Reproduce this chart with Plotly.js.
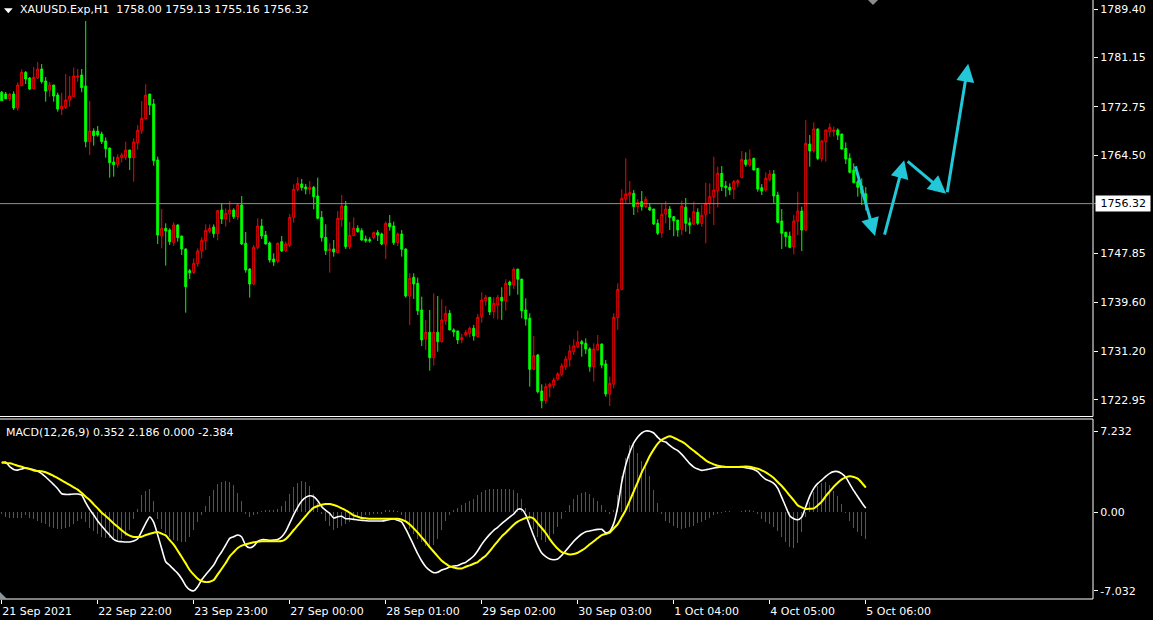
<!DOCTYPE html>
<html>
<head>
<meta charset="utf-8">
<script src="https://cdn.plot.ly/plotly-3.0.1.min.js"></script>
<style>
html,body{margin:0;padding:0;background:#000;}
#chart{width:1153px;height:620px;}
</style>
</head>
<body>
<div id="chart"></div>
<script>
// ---- Data (H1 bars, 21 Sep 2021 -> 5 Oct 2021 06:00) ----
const open = [1775.24,1774.95,1774.16,1774.95,1772.57,1776.37,1778.63,1777.67,1775.86,1777.67,
1779.20,1777.16,1775.63,1776.48,1774.78,1772.40,1772.69,1773.93,1774.50,1777.84,
1778.18,1776.31,1766.85,1768.66,1768.66,1768.15,1766.96,1765.77,1763.39,1763.00,
1764.13,1764.19,1765.43,1764.13,1766.68,1768.78,1770.76,1774.95,1773.25,1763.73,
1750.82,1752.12,1751.84,1749.74,1752.69,1750.82,1748.61,1744.92,1744.64,1746.11,
1748.32,1750.02,1751.67,1752.35,1751.22,1755.24,1753.71,1754.56,1755.24,1754.11,
1756.09,1749.58,1745.21,1742.66,1748.90,1752.52,1750.99,1749.63,1746.91,1746.57,
1749.86,1748.33,1749.29,1753.99,1758.75,1759.66,1759.15,1758.75,1759.09,1757.62,
1753.99,1750.60,1748.33,1748.61,1747.99,1753.66,1755.92,1749.01,1750.88,1752.13,
1751.73,1750.31,1750.20,1750.54,1751.39,1751.16,1749.41,1752.98,1752.52,1749.69,
1751.16,1748.61,1740.62,1743.80,1742.78,1738.24,1733.32,1734.45,1730.14,1734.45,
1732.86,1736.43,1737.68,1734.85,1734.68,1733.15,1734.00,1734.28,1735.13,1733.71,
1737.11,1739.83,1740.40,1737.96,1739.09,1740.40,1739.77,1743.00,1742.49,1745.20,
1743.50,1738.24,1736.83,1728.16,1730.60,1724.48,1722.83,1725.21,1725.50,1726.52,
1727.31,1728.61,1729.86,1731.16,1732.01,1732.86,1732.58,1731.62,1728.61,1731.45,
1732.47,1729.07,1723.97,1725.67,1736.94,1741.76,1757.11,1757.79,1758.07,1755.81,
1756.66,1755.81,1755.70,1755.41,1752.97,1751.38,1754.55,1755.40,1754.10,1753.53,
1751.95,1755.69,1753.08,1752.85,1754.84,1752.97,1754.50,1756.37,1757.50,1758.52,
1761.47,1759.31,1759.09,1758.80,1759.88,1760.73,1763.73,1762.88,1764.01,1762.31,
1759.03,1758.63,1760.45,1761.35,1757.78,1753.36,1751.44,1750.81,1749.00,1753.36,
1755.06,1751.83,1766.45,1765.32,1769.00,1764.01,1766.85,1768.55,1768.55,1768.83,
1768.15,1765.71,1764.01,1762.03,1760.05,1759.31,1758.00];
const high = [1775.46,1775.29,1775.12,1775.41,1776.94,1779.14,1778.86,1777.84,1779.54,1780.39,
1780.05,1777.84,1776.99,1776.50,1775.18,1775.18,1778.35,1778.01,1779.43,1779.20,
1779.20,1787.36,1773.76,1769.12,1769.51,1768.55,1767.59,1765.80,1764.30,1764.70,
1764.98,1766.85,1765.45,1767.42,1769.68,1773.76,1776.60,1774.95,1774.10,1764.30,
1755.41,1752.97,1752.12,1753.14,1752.80,1750.82,1748.70,1745.21,1747.02,1748.72,
1750.59,1752.80,1752.80,1752.80,1755.24,1756.37,1755.52,1756.77,1755.52,1756.37,
1757.62,1751.50,1745.33,1749.29,1753.82,1753.71,1751.67,1749.86,1747.88,1749.69,
1750.82,1749.86,1754.56,1759.60,1760.79,1760.51,1759.66,1760.17,1759.32,1760.74,
1755.07,1752.81,1749.58,1750.14,1755.07,1757.79,1756.77,1753.20,1753.99,1752.64,
1752.13,1750.88,1750.60,1751.56,1751.84,1751.39,1753.26,1754.39,1753.26,1751.39,
1751.84,1748.70,1744.48,1744.48,1743.74,1740.51,1736.54,1738.24,1741.08,1740.62,
1740.06,1738.92,1738.24,1735.13,1734.70,1734.17,1734.85,1735.41,1735.70,1737.56,
1741.25,1740.79,1740.40,1740.40,1740.79,1742.10,1743.46,1743.23,1745.44,1745.20,
1743.50,1740.23,1737.68,1733.83,1730.77,1725.61,1725.78,1725.89,1726.74,1727.65,
1729.18,1730.43,1732.30,1733.26,1734.73,1733.15,1733.43,1731.90,1732.58,1734.00,
1732.50,1729.75,1726.91,1737.68,1742.78,1758.75,1764.02,1760.17,1758.64,1757.06,
1758.47,1757.51,1756.26,1755.41,1753.66,1756.20,1756.76,1755.91,1754.20,1753.53,
1756.82,1757.27,1753.93,1756.65,1755.52,1756.08,1759.88,1759.77,1764.30,1762.60,
1762.71,1760.16,1759.77,1760.33,1760.45,1765.26,1765.03,1765.54,1764.13,1762.35,
1759.65,1761.64,1762.03,1762.03,1758.35,1755.40,1751.55,1751.55,1754.38,1758.35,
1755.80,1770.53,1767.98,1770.13,1769.11,1767.13,1768.90,1769.96,1769.40,1769.11,
1768.20,1766.73,1764.86,1763.16,1760.33,1760.62,1759.13];
const low = [1773.76,1774.05,1773.76,1772.23,1772.12,1776.30,1776.65,1775.63,1775.80,1777.50,
1776.71,1773.65,1774.50,1773.65,1771.95,1771.38,1772.40,1772.80,1774.50,1777.05,
1775.24,1765.89,1764.58,1766.17,1767.70,1766.45,1764.13,1760.73,1760.90,1762.43,
1763.34,1763.73,1762.03,1760.05,1765.49,1768.15,1770.59,1771.38,1762.77,1749.46,
1748.72,1745.77,1749.29,1749.12,1749.85,1747.59,1737.79,1743.51,1744.36,1745.60,
1747.02,1748.44,1751.27,1750.53,1750.08,1752.86,1752.41,1753.09,1753.71,1753.54,
1749.29,1744.59,1740.34,1742.49,1748.56,1750.31,1749.40,1746.29,1745.72,1746.18,
1748.10,1748.16,1748.90,1753.09,1758.36,1758.53,1757.90,1757.90,1755.35,1753.66,
1749.86,1747.59,1744.59,1747.31,1747.90,1752.41,1748.61,1748.56,1750.80,1751.39,
1750.03,1749.69,1749.69,1750.25,1749.97,1749.24,1746.91,1751.73,1749.29,1749.12,
1747.31,1740.34,1735.69,1740.11,1737.39,1732.13,1731.45,1727.93,1728.78,1731.16,
1732.69,1735.70,1734.80,1733.71,1732.47,1732.58,1733.71,1733.60,1733.03,1733.60,
1736.09,1738.98,1737.39,1736.83,1736.66,1736.55,1738.13,1740.68,1741.81,1740.85,
1736.83,1735.58,1725.21,1728.05,1724.08,1721.53,1722.27,1723.40,1724.93,1726.24,
1726.91,1728.05,1728.61,1730.60,1731.73,1730.31,1730.77,1727.76,1726.06,1731.33,
1728.33,1723.51,1721.93,1724.93,1734.85,1741.60,1756.38,1756.38,1754.39,1754.79,
1755.13,1755.53,1755.07,1752.69,1750.99,1750.53,1752.97,1751.83,1750.81,1750.70,
1750.98,1751.55,1751.15,1752.68,1752.70,1752.40,1749.57,1754.55,1752.68,1755.69,
1758.46,1757.50,1757.78,1757.10,1759.09,1760.70,1762.60,1762.60,1762.00,1758.35,
1757.78,1758.35,1760.05,1756.37,1752.97,1748.60,1749.00,1748.72,1747.70,1750.98,
1748.26,1751.70,1762.60,1764.98,1763.73,1763.45,1763.45,1767.70,1767.70,1767.13,
1765.50,1763.05,1761.47,1759.77,1757.50,1756.08,1755.16];
const close = [1773.82,1774.16,1774.90,1772.57,1776.48,1778.63,1777.50,1775.80,1777.78,1779.20,
1777.05,1775.46,1776.48,1774.61,1772.40,1772.91,1773.93,1774.61,1778.01,1778.01,
1776.03,1766.85,1768.66,1767.87,1767.98,1766.85,1765.66,1763.28,1762.94,1764.19,
1764.58,1765.43,1764.13,1766.79,1768.78,1770.82,1774.78,1773.08,1763.62,1750.99,
1752.12,1751.67,1749.85,1752.69,1750.53,1748.61,1742.20,1744.58,1746.17,1748.27,
1750.08,1751.78,1752.12,1751.22,1755.12,1753.71,1754.67,1755.24,1754.11,1756.09,
1749.46,1745.04,1742.66,1748.90,1752.52,1750.82,1749.46,1746.74,1746.40,1749.58,
1748.27,1749.46,1753.99,1758.75,1759.77,1759.04,1758.81,1759.09,1757.51,1753.82,
1750.54,1748.33,1748.61,1748.10,1753.82,1755.92,1749.01,1750.94,1752.13,1751.56,
1750.14,1750.03,1750.03,1751.39,1750.99,1749.46,1752.98,1752.41,1749.69,1751.16,
1748.56,1740.62,1743.63,1742.66,1738.13,1733.15,1734.45,1730.14,1734.45,1732.86,
1736.55,1737.68,1734.85,1734.51,1733.15,1733.54,1734.39,1735.13,1733.83,1737.00,
1739.94,1740.40,1737.90,1739.38,1740.40,1739.77,1742.78,1742.49,1745.16,1743.46,
1738.13,1736.71,1728.16,1730.48,1724.36,1722.83,1725.21,1725.61,1726.35,1727.37,
1728.73,1729.92,1731.28,1732.13,1732.81,1732.47,1731.62,1728.61,1731.62,1732.41,
1728.90,1723.97,1725.78,1737.00,1741.76,1757.22,1757.96,1758.19,1755.81,1756.55,
1755.81,1757.06,1755.24,1752.86,1751.28,1754.50,1755.40,1753.99,1753.42,1751.83,
1755.91,1752.97,1752.68,1754.95,1752.97,1754.33,1756.37,1757.50,1758.63,1761.47,
1759.20,1759.03,1758.63,1760.05,1760.22,1763.84,1762.99,1763.84,1762.03,1758.80,
1758.46,1760.62,1761.35,1757.61,1753.14,1751.27,1750.70,1748.89,1753.36,1755.06,
1751.83,1766.56,1765.26,1769.00,1764.01,1766.96,1768.83,1769.28,1768.83,1767.98,
1765.60,1763.90,1761.64,1759.88,1759.09,1758.07,1756.32];

// MACD(12,26,9) sub-window: white main line, yellow signal line, histogram
const macdMain = [4.38,4.47,4.05,3.81,3.75,3.84,3.93,3.87,3.78,3.64,
3.43,3.13,2.80,2.45,2.09,1.64,1.58,1.58,1.61,1.61,
1.52,0.84,0.24,-0.26,-0.80,-1.25,-1.66,-2.05,-2.44,-2.61,
-2.64,-2.67,-2.67,-2.59,-2.38,-1.72,-1.01,-0.44,-0.92,-2.05,
-3.27,-4.43,-4.76,-5.12,-5.47,-5.95,-6.57,-6.93,-7.03,-6.66,
-6.04,-5.59,-5.17,-4.73,-4.07,-3.54,-2.94,-2.35,-2.20,-2.05,
-2.23,-2.97,-3.18,-3.03,-2.61,-2.47,-2.47,-2.53,-2.50,-2.44,
-2.20,-1.72,-0.98,-0.23,0.45,0.99,1.31,1.46,1.37,1.02,
0.48,0.15,-0.12,-0.53,-0.41,-0.38,-0.59,-0.59,-0.65,-0.71,
-0.74,-0.77,-0.80,-0.80,-0.80,-0.80,-0.74,-0.65,-0.62,-0.74,
-0.89,-1.51,-2.23,-2.97,-3.72,-4.37,-4.88,-5.20,-5.41,-5.38,
-5.17,-5.06,-4.91,-4.82,-4.76,-4.61,-4.49,-4.22,-3.92,-3.45,
-2.88,-2.41,-1.99,-1.63,-1.36,-1.03,-0.74,-0.45,-0.17,0.24,
0.24,-0.24,-1.19,-2.14,-3.00,-3.66,-3.98,-4.19,-4.25,-4.19,
-3.86,-3.45,-3.03,-2.61,-2.26,-1.96,-1.75,-1.69,-1.60,-1.54,
-1.54,-1.84,-1.72,-1.01,0.48,2.68,4.23,5.33,6.17,6.70,
7.06,7.232,7.22,7.06,6.67,6.37,6.25,5.96,5.69,5.48,
5.15,4.74,4.32,4.02,3.84,3.72,3.78,3.84,3.93,3.99,
4.02,4.02,4.02,4.02,4.02,4.02,3.96,3.90,3.81,3.61,
3.22,2.92,2.77,2.56,2.12,1.31,0.48,-0.32,-0.59,-0.68,
-0.44,0.48,1.43,2.12,2.56,2.86,3.19,3.46,3.61,3.61,
3.43,3.10,2.50,1.91,1.37,0.84,0.352];
const macdSignal = [4.44,4.38,4.35,4.26,4.14,4.05,3.93,3.84,3.72,3.67,
3.64,3.55,3.40,3.22,3.04,2.83,2.62,2.42,2.21,2.00,
1.70,1.37,1.08,0.69,0.33,-0.06,-0.35,-0.68,-1.01,-1.31,
-1.63,-1.90,-2.11,-2.23,-2.23,-2.20,-2.05,-1.93,-1.84,-1.78,
-1.93,-2.08,-2.50,-2.91,-3.45,-4.01,-4.58,-5.17,-5.59,-5.95,
-6.16,-6.25,-6.22,-6.07,-5.56,-5.06,-4.55,-3.95,-3.57,-3.21,
-3.00,-2.88,-2.79,-2.70,-2.64,-2.61,-2.61,-2.61,-2.61,-2.61,
-2.59,-2.41,-2.05,-1.60,-1.19,-0.77,-0.35,0.06,0.39,0.54,
0.65,0.72,0.72,0.63,0.51,0.33,0.15,-0.06,-0.29,-0.41,
-0.53,-0.56,-0.59,-0.59,-0.59,-0.59,-0.59,-0.59,-0.59,-0.59,
-0.68,-0.83,-1.10,-1.45,-1.84,-2.26,-2.67,-3.12,-3.54,-3.95,
-4.34,-4.61,-4.85,-4.94,-5.03,-5.03,-4.88,-4.76,-4.61,-4.46,
-4.16,-3.89,-3.48,-3.03,-2.61,-2.17,-1.84,-1.48,-1.13,-0.86,
-0.68,-0.53,-0.47,-0.59,-1.01,-1.42,-1.87,-2.41,-2.88,-3.27,
-3.57,-3.69,-3.78,-3.75,-3.63,-3.42,-3.18,-2.88,-2.61,-2.32,
-2.05,-1.96,-1.84,-1.45,-1.07,-0.45,0.18,1.02,1.85,2.68,
3.55,4.26,5.00,5.60,6.11,6.46,6.64,6.76,6.64,6.46,
6.28,6.05,5.75,5.48,5.18,4.91,4.62,4.41,4.26,4.14,
4.08,4.02,4.02,4.02,4.02,4.05,4.08,4.05,3.96,3.87,
3.72,3.55,3.31,3.04,2.68,2.33,1.91,1.46,1.05,0.60,
0.42,0.27,0.30,0.33,0.60,0.93,1.43,1.85,2.27,2.62,
2.92,3.10,3.19,3.13,2.98,2.62,2.186];
const macdHist = [-0.2,-0.4,-0.5,-0.5,-0.5,-0.5,-0.3,-0.5,-0.6,-0.8,
-1.0,-1.1,-1.3,-1.4,-1.5,-1.5,-1.4,-1.3,-1.1,-0.8,
-0.6,-0.9,-1.4,-1.7,-2.0,-2.2,-2.3,-2.3,-2.4,-2.5,
-2.4,-2.1,-1.6,-0.6,0.3,1.5,1.9,2.1,1.0,-0.6,
-1.5,-1.9,-2.2,-2.5,-2.6,-2.7,-2.7,-2.2,-1.6,-0.9,
-0.3,0.5,1.4,2.0,2.5,2.7,2.8,2.7,2.4,1.7,
1.0,-0.2,-0.4,-0.3,-0.2,0.1,0.2,0.15,0.2,0.3,
0.5,1.0,1.6,2.2,2.6,2.8,2.7,2.3,1.6,0.8,
-0.2,-0.8,-1.2,-1.6,-1.4,-1.2,-1.1,-0.9,-0.7,-0.5,
-0.4,-0.3,-0.3,-0.2,-0.2,-0.15,0.15,0.2,0.2,0.1,
-0.3,-0.9,-1.5,-2.0,-2.4,-2.7,-3.0,-3.2,-2.9,-2.4,
-1.6,-0.8,-0.3,0.2,0.4,0.6,0.8,1.0,1.2,1.5,
1.8,2.0,2.1,2.1,2.1,2.1,2.1,2.1,2.0,1.7,
1.2,0.4,-0.7,-1.5,-2.2,-2.5,-2.7,-2.5,-2.0,-1.3,
-0.6,0.1,0.6,1.2,1.5,1.7,1.8,1.6,1.3,1.0,
0.6,0.2,-0.2,0.2,1.5,3.2,4.8,6.0,6.2,5.3,
4.6,4.0,3.2,2.0,0.8,-0.2,-0.8,-1.0,-1.2,-1.4,
-1.5,-1.4,-1.3,-1.2,-1.0,-0.9,-0.7,-0.5,-0.3,-0.2,
-0.1,0.1,0.1,0.0,0.05,0.1,0.2,0.15,0.1,-0.2,
-0.6,-0.9,-1.1,-1.3,-1.7,-2.2,-2.7,-3.1,-3.2,-2.8,
-1.8,-0.4,0.9,1.8,2.3,2.6,2.7,2.4,1.9,1.4,
0.7,-0.1,-0.8,-1.4,-1.8,-2.1,-2.384];

// Time-axis labels (every 24 bars) and price-scale labels
const timeLabels = ["21 Sep 2021","22 Sep 22:00","23 Sep 23:00","27 Sep 00:00","28 Sep 01:00",
                    "29 Sep 02:00","30 Sep 03:00","1 Oct 04:00","4 Oct 05:00","5 Oct 06:00"];
const timeLabelBars = [0,24,48,72,96,120,144,168,192,216];
const priceTicks = [1789.40,1781.15,1772.75,1764.50,1747.85,1739.60,1731.20,1722.95];
const macdTicks = [7.232,0.00,-7.032];
const macdTickText = ["7.232","0.00","-7.032"];
const lastPrice = 1756.32;
const headerSymbol = "XAUUSD.Exp,H1";
const headerOHLC = [1758.00,1759.13,1755.16,1756.32];
const macdHeader = "MACD(12,26,9) 0.352 2.186 0.000 -2.384";
// hand-drawn arrows on the chart: [bar0, price0, bar1, price1]
const drawnArrows = [
  [213.3,1762.9,218.3,1750.8],
  [220.6,1750.8,225.6,1763.7],
  [226.1,1763.7,236.1,1758.0],
  [236.3,1758.0,241.6,1780.1]
];

const bars = open.map((_, i) => i);
const FONT = "DejaVu Sans, Verdana, sans-serif";
const ARROW = "#22c8d8";

const traces = [
  {
    type: "candlestick", x: bars, open: open, high: high, low: low, close: close,
    xaxis: "x", yaxis: "y",
    increasing: {line: {color: "#ff0000", width: 1}, fillcolor: "#000000"},
    decreasing: {line: {color: "#00ff00", width: 1}, fillcolor: "#00ff00"},
    whiskerwidth: 0, hoverinfo: "skip"
  },
  {
    type: "bar", x: bars, y: macdHist, xaxis: "x", yaxis: "y2", width: 0.25,
    marker: {color: macdHist.map(v => v >= 0 ? "#b8283c" : "#1f7a2a"), line: {width: 0}},
    hoverinfo: "skip"
  },
  {
    type: "scatter", mode: "lines", x: bars, y: macdMain, xaxis: "x", yaxis: "y2",
    line: {color: "#ffffff", width: 1.6, shape: "spline", smoothing: 0.6}, hoverinfo: "skip"
  },
  {
    type: "scatter", mode: "lines", x: bars, y: macdSignal, xaxis: "x", yaxis: "y2",
    line: {color: "#ffff00", width: 2, shape: "spline", smoothing: 0.6}, hoverinfo: "skip"
  }
];

const W = 1093, H0 = 599, PH = 598; // plot area geometry
const mainBottom = (H0 - 416.5) / PH;
const macdTop = (H0 - 419) / PH;
const px = x => x / W;
const py = y => (H0 - y) / PH;

const shapes = [
  // frames
  {type: "line", xref: "paper", yref: "paper", x0: 1, x1: 1, y0: mainBottom, y1: 1.003, line: {color: "#fff", width: 1}},
  {type: "line", xref: "paper", yref: "paper", x0: 0, x1: 1, y0: mainBottom, y1: mainBottom, line: {color: "#fff", width: 1}},
  {type: "line", xref: "paper", yref: "paper", x0: 0, x1: 1, y0: macdTop, y1: macdTop, line: {color: "#fff", width: 1}},
  {type: "line", xref: "paper", yref: "paper", x0: 1, x1: 1, y0: 0, y1: macdTop, line: {color: "#fff", width: 1}},
  {type: "line", xref: "paper", yref: "paper", x0: 0, x1: 1, y0: 0, y1: 0, line: {color: "#fff", width: 1}},
  // last price line
  {type: "line", xref: "paper", yref: "y", x0: 0, x1: 1.005, y0: lastPrice, y1: lastPrice, line: {color: "#8c9199", width: 1}},
  // header triangle
  {type: "path", xref: "paper", yref: "paper",
   path: `M ${px(4)},${py(8.3)} L ${px(12.7)},${py(8.3)} L ${px(8.35)},${py(13.3)} Z`,
   fillcolor: "#ffffff", line: {width: 0}},
  // chart shift marker (top)
  {type: "path", xref: "paper", yref: "paper",
   path: `M ${px(868)},${py(0)} L ${px(878)},${py(0)} L ${px(873)},${py(5)} Z`,
   fillcolor: "#8c8c8c", line: {width: 0}},
  // bottom-left marker
  {type: "path", xref: "paper", yref: "paper",
   path: `M ${px(0)},${py(592)} L ${px(7)},${py(599)} L ${px(0)},${py(599)} Z`,
   fillcolor: "#8c95a0", line: {width: 0}}
];

const annotations = [
  {xref: "paper", yref: "paper", x: px(18), y: 1, xanchor: "left", yanchor: "top", yshift: 0,
   text: headerSymbol + "\u00a0\u00a0" + headerOHLC.map(v => v.toFixed(2)).join(" "),
   showarrow: false, font: {family: FONT, size: 11, color: "#ffffff"}},
  {xref: "paper", yref: "paper", x: px(4), y: macdTop, xanchor: "left", yanchor: "top", yshift: -5,
   text: macdHeader, showarrow: false, font: {family: FONT, size: 11, color: "#ffffff"}},
  {xref: "paper", yref: "y", x: 1, y: lastPrice, xanchor: "left", yanchor: "middle", xshift: 2,
   text: "\u00a0" + lastPrice.toFixed(2) + "\u00a0", showarrow: false, bgcolor: "#ffffff", borderpad: 1,
   font: {family: FONT, size: 11, color: "#000000"}}
];
drawnArrows.forEach(a => {
  annotations.push({
    xref: "x", yref: "y", axref: "x", ayref: "y",
    x: a[2], y: a[3], ax: a[0], ay: a[1], text: "", showarrow: true,
    arrowhead: 2, arrowsize: 1.2, arrowwidth: 3, arrowcolor: ARROW, standoff: 0, startstandoff: 0
  });
});

const layout = {
  width: 1153, height: 620,
  paper_bgcolor: "#000000", plot_bgcolor: "#000000",
  margin: {l: 0, r: 60, t: 1, b: 21, pad: 0},
  showlegend: false,
  bargap: 0,
  font: {family: FONT, size: 11, color: "#ffffff"},
  xaxis: {
    anchor: "y2", range: [-0.425, 272.8], showgrid: false, zeroline: false, showline: false,
    tickmode: "array", tickvals: timeLabelBars, ticktext: timeLabels,
    ticks: "outside", ticklen: 4, tickcolor: "#ffffff", tickwidth: 1,
    ticklabelposition: "outside right", ticklabelstandoff: 2,
    tickfont: {family: FONT, size: 11, color: "#ffffff"},
    rangeslider: {visible: false}, fixedrange: true
  },
  yaxis: {
    domain: [mainBottom, 1], anchor: "x", side: "right",
    range: [1720.14, 1790.76], showgrid: false, zeroline: false, showline: false,
    tickmode: "array", tickvals: priceTicks, ticktext: priceTicks.map(v => v.toFixed(2)),
    ticks: "outside", ticklen: 4, tickcolor: "#ffffff",
    tickfont: {family: FONT, size: 11, color: "#ffffff"}, fixedrange: true
  },
  yaxis2: {
    domain: [0, macdTop], anchor: "x", side: "right",
    range: [-7.76, 8.31], showgrid: false, zeroline: false, showline: false,
    tickmode: "array", tickvals: macdTicks, ticktext: macdTickText,
    ticks: "outside", ticklen: 4, tickcolor: "#ffffff",
    tickfont: {family: FONT, size: 11, color: "#ffffff"}, fixedrange: true
  },
  shapes: shapes,
  annotations: annotations
};

Plotly.newPlot("chart", traces, layout, {staticPlot: true, displayModeBar: false});
</script>
</body>
</html>
